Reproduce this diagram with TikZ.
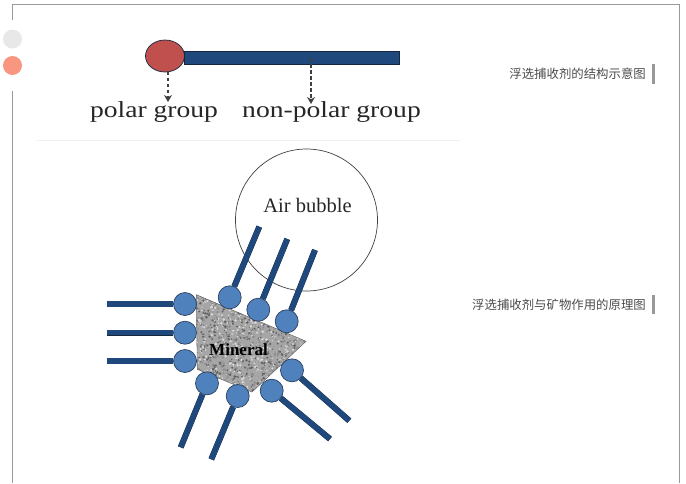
\documentclass[tikz,border=0pt]{standalone}
\usepackage{fontspec}
\usepackage{graphicx}
\setmainfont{Liberation Serif}
\newfontfamily\cjk{Noto Sans CJK SC}
\usetikzlibrary{arrows.meta,shapes.geometric}
\definecolor{barblue}{HTML}{1F497D}
\definecolor{barline}{HTML}{16263F}
\definecolor{headblue}{HTML}{4F81BD}
\definecolor{headline}{HTML}{2C3F5C}
\definecolor{polarred}{HTML}{C0504D}
\definecolor{frameline}{HTML}{999999}
\definecolor{salmon}{HTML}{F89680}
\tikzset{
  head/.style={circle,draw=headline,fill=headblue,line width=0.7pt,inner sep=0pt,minimum size=23pt},
  tail/.style={draw=barline,double=barblue,double distance=5.4pt,line width=0.3pt},
  caption/.style={anchor=east,inner sep=0pt,text=black!70,font=\cjk\fontsize{12.4}{13}\selectfont},
  capbar/.style={line width=3pt,color=black!40},
  label/.style={inner sep=0pt,text=black!85,font=\fontsize{23}{25}\selectfont},
  pointer/.style={dash pattern=on 3.5pt off 2.5pt,line width=1.2pt,color=black!75,-{Stealth[length=7pt,width=8pt]}},
}
\begin{document}
\begin{tikzpicture}[x=1pt,y=-1pt]
  \useasboundingbox (0,0) rectangle (686,483);

  % frame
  \coordinate (f0) at (12.5,20);
  \coordinate (f1) at (12.5,4);
  \coordinate (f2) at (679,4);
  \coordinate (f3) at (679,483);
  \coordinate (f4) at (12.5,91);
  \coordinate (f5) at (12.5,483);
  \draw[frameline,line width=0.8pt] (f0) -- (f1) -- (f2) -- (f3);
  \draw[frameline,line width=0.8pt] (f4) -- (f5);
  \node[circle,fill=black!9,inner sep=0pt,minimum size=19pt] (dot0) at (12.5,39) {};
  \node[circle,fill=salmon,inner sep=0pt,minimum size=19pt] (dot1) at (12.5,65.5) {};

  % faint seam under the first figure
  \coordinate (s0) at (37,140.5);
  \coordinate (s1) at (460,140.5);
  \draw[black!6,line width=0.6pt] (s0) -- (s1);

  % collector
  \node[ellipse,draw=barline,fill=polarred,line width=0.7pt,inner sep=0pt,minimum width=39pt,minimum height=32pt] (polar) at (165,56) {};
  \node[draw=barline,fill=barblue,line width=0.6pt,anchor=west,inner sep=0pt,minimum width=215pt,minimum height=13pt] (nonpolar) at (184,57.5) {};
  \node[label] (polarlabel) at (154,112) {\scalebox{1.2}[1]{polar group}};
  \node[label] (nonpolarlabel) at (331.5,112) {\scalebox{1.2}[1]{non-polar group}};
  \coordinate (polarstart) at (168,71.5);
  \coordinate (polarend) at (168,102);
  \coordinate (nonpolarstart) at (311,58);
  \coordinate (nonpolarend) at (311,104);
  \draw[pointer] (polarstart) -- (polarend);
  \draw[pointer] (nonpolarstart) -- (nonpolarend);

  % air bubble
  \node[circle,draw=black!75,line width=0.7pt,inner sep=0pt,minimum size=142pt] (bubble) at (306.5,220) {};
  \node[label,font=\fontsize{20.5}{22}\selectfont] (bubblelabel) at (307.5,205) {Air bubble};

  % mineral
  \coordinate (m0) at (196.3,294.7);
  \coordinate (m1) at (306,341.3);
  \coordinate (m2) at (252,392);
  \coordinate (m3) at (197.3,369.3);
  \fill[black!35] (m0) -- (m1) -- (m2) -- (m3) -- cycle;
  \begin{scope}
    \clip (m0) -- (m1) -- (m2) -- (m3) -- cycle;
    \pgfmathsetseed{42}
    \foreach \i in {1,...,1500} {
      \pgfmathsetmacro{\px}{196+110*rnd}
      \pgfmathsetmacro{\py}{294+98*rnd}
      \pgfmathsetmacro{\ps}{0.5+0.9*rnd}
      \pgfmathtruncatemacro{\pg}{mod(\i,3)==0 ? 55 : (mod(\i,3)==1 ? 85 : 38)}
      \fill[white!\pg!black] (\px,\py) circle (\ps);
    }
  \end{scope}
  \draw[black!60,line width=0.5pt] (m0) -- (m1) -- (m2) -- (m3) -- cycle;
  \node[inner sep=0pt,text=black,font=\fontsize{17}{18}\selectfont\bfseries] (mineral) at (238.5,350) {Mineral};

  % left
  \node[head] (h0) at (185,304) {};
  \node[head] (h1) at (185,332.7) {};
  \node[head] (h2) at (185,361) {};
  % top
  \node[head] (h3) at (229.7,297.3) {};
  \node[head] (h4) at (258.3,309.7) {};
  \node[head] (h5) at (286.7,321.3) {};
  % bottom
  \node[head] (h6) at (207,383.3) {};
  \node[head] (h7) at (237.7,396) {};
  \node[head] (h8) at (271.7,390.7) {};
  \node[head] (h9) at (292,370.3) {};

  \coordinate (t0) at (107,304);
  \coordinate (t1) at (107,332.7);
  \coordinate (t2) at (107,361);
  \coordinate (t3) at (259.3,226.7);
  \coordinate (t4) at (287.3,239);
  \coordinate (t5) at (315,250);
  \coordinate (t6) at (180.7,447.3);
  \coordinate (t7) at (211.3,459.3);
  \coordinate (t8) at (330,439);
  \coordinate (t9) at (349.3,420.7);

  \draw[tail] (h0) -- (t0);
  \draw[tail] (h1) -- (t1);
  \draw[tail] (h2) -- (t2);
  \draw[tail] (h3) -- (t3);
  \draw[tail] (h4) -- (t4);
  \draw[tail] (h5) -- (t5);
  \draw[tail] (h6) -- (t6);
  \draw[tail] (h7) -- (t7);
  \draw[tail] (h8) -- (t8);
  \draw[tail] (h9) -- (t9);

  % captions
  \node[caption] (cap0) at (646,74) {浮选捕收剂的结构示意图};
  \node[caption] (cap1) at (646,304.5) {浮选捕收剂与矿物作用的原理图};
  \coordinate (b0) at (653.5,64);
  \coordinate (b1) at (653.5,84);
  \coordinate (b2) at (653.5,295);
  \coordinate (b3) at (653.5,314);
  \draw[capbar] (b0) -- (b1);
  \draw[capbar] (b2) -- (b3);
\end{tikzpicture}
\end{document}
